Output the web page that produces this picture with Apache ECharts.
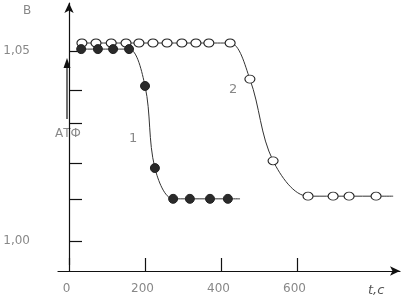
<!DOCTYPE html>
<html><head><meta charset="utf-8">
<script src="https://cdn.jsdelivr.net/npm/echarts@6/dist/echarts.min.js"></script>
<style>html,body{margin:0;padding:0;background:#fff}#c{width:405px;height:298px}</style>
</head><body><div id="c"></div>
<script>
// Curve 1 (filled circles): time, value
const t1 = [32, 76, 116, 158, 200, 226, 274, 318, 371, 418, 450];
const v1 = [1.0505, 1.0505, 1.0505, 1.0505, 1.0408, 1.0192, 1.0111, 1.0111, 1.0111, 1.0111, 1.0111];
const m1 = [1, 1, 1, 1, 1, 1, 1, 1, 1, 1, 0]; // 1 = marker shown, 0 = line end only
// Curve 2 (open circles)
const t2 = [34, 71, 111, 150, 184, 221, 258, 297, 334, 368, 424, 476, 537, 629, 695, 737, 808, 853];
const v2 = [1.0521, 1.0521, 1.0521, 1.0521, 1.0521, 1.0521, 1.0521, 1.0521, 1.0521, 1.0521, 1.0521, 1.0426, 1.0211, 1.0118, 1.0118, 1.0118, 1.0118, 1.0118];
const m2 = [1, 1, 1, 1, 1, 1, 1, 1, 1, 1, 1, 1, 1, 1, 1, 1, 1, 0];
const xTicks = [0, 200, 400, 600];
const yTicks = [1.00, 1.0111, 1.0205, 1.0311, 1.0397, 1.05];
const yLabels = [1.00, 1.05];

const chart = echarts.init(document.getElementById('c'), null, {renderer: 'canvas'});
const font = 'DejaVu Sans';
const gray = '#888';
function mk(t, v, m, sym, size, fill) {
  return t.map((x, i) => ({value: [x, v[i]], symbol: m[i] ? sym : 'none', symbolSize: size, itemStyle: {color: fill, borderColor: '#222', borderWidth: 1}}));
}
chart.setOption({
  animation: false,
  grid: {left: 58, right: 5, top: 3, bottom: 33},
  xAxis: {
    type: 'value', min: -29, max: 871, offset: 6,
    splitLine: {show: false},
    axisLine: {lineStyle: {color: '#111', width: 1.2}, symbol: ['none', 'arrow'], symbolSize: [7, 10]},
    axisTick: {inside: true, length: 13, customValues: xTicks, lineStyle: {color: '#111', width: 1.2}},
    axisLabel: {customValues: xTicks, color: gray, fontFamily: font, fontSize: 12, margin: 12, padding: [0, 5, 0, 0]}
  },
  yAxis: {
    type: 'value', min: 0.99369, max: 1.06263, offset: 11,
    splitLine: {show: false},
    axisLine: {show: true, lineStyle: {color: '#111', width: 1.2}, symbol: ['none', 'arrow'], symbolSize: [7, 10]},
    axisTick: {inside: true, length: 13, customValues: yTicks, lineStyle: {color: '#111', width: 1.2}},
    axisLabel: {customValues: yLabels, color: gray, fontFamily: font, fontSize: 12, margin: 17,
      formatter: v => v.toFixed(2).replace('.', ',')}
  },
  series: [
    {type: 'line', smooth: 0.35, data: mk(t2, v2, m2, 'circle', [10, 8], '#fff'), lineStyle: {color: '#333', width: 1}, z: 2},
    {type: 'line', smooth: 0.35, data: mk(t1, v1, m1, 'circle', 9, '#2a2a2a'), lineStyle: {color: '#333', width: 1}, z: 3}
  ],
  graphic: [
    {type: 'text', left: 23, top: 5, style: {text: 'B', fill: gray, font: '12px "DejaVu Sans"'}},
    {type: 'text', left: 55, top: 128, style: {text: 'АТФ', fill: gray, font: '12px "DejaVu Sans"'}},
    {type: 'text', left: 129, top: 132, style: {text: '1', fill: gray, font: '13px "DejaVu Sans"'}},
    {type: 'text', left: 229, top: 83, style: {text: '2', fill: gray, font: '13px "DejaVu Sans"'}},
    {type: 'text', left: 368, top: 284, style: {text: 't,c', fill: '#555', font: 'italic 13px "DejaVu Sans"'}},
    {type: 'line', shape: {x1: 67, y1: 66, x2: 67, y2: 119}, style: {stroke: '#111', lineWidth: 1.2}},
    {type: 'polygon', shape: {points: [[67, 58], [63.5, 68], [70.5, 68]]}, style: {fill: '#111'}}
  ]
});
</script></body></html>
